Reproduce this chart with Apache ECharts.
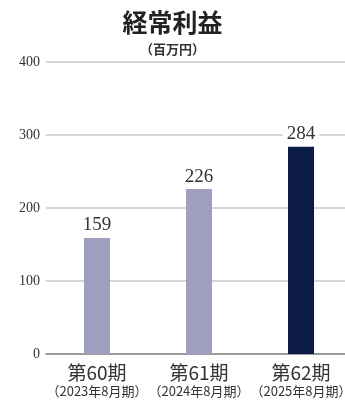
<!DOCTYPE html>
<html><head><meta charset="utf-8">
<script src="https://cdn.jsdelivr.net/npm/echarts@6/dist/echarts.min.js"></script>
<style>html,body{margin:0;padding:0;background:#fff}#c{width:345px;height:401px}</style>
</head><body><div id="c"></div>
<script>
const periods = ['第60期', '第61期', '第62期'];
const fiscal = ['（2023年8月期）', '（2024年8月期）', '（2025年8月期）'];
const values = [159, 226, 284];
const yTicks = [0, 100, 200, 300, 400];
const colors = ['#a19fc0', '#a19fc0', '#0c1b45'];

const chart = echarts.init(document.getElementById('c'));
chart.setOption({
  animation: false,
  title: [
    {text: '経常利益', left: 'center', top: 5, textStyle: {fontFamily: 'Noto Sans CJK JP', fontWeight: 'bold', fontSize: 25, color: '#222'}},
    {text: '（百万円）', left: 'center', top: 38, textStyle: {fontFamily: 'Noto Sans CJK JP', fontWeight: 'bold', fontSize: 13, color: '#333'}}
  ],
  grid: {left: 46, width: 306, top: 62, bottom: 47, containLabel: false, outerBoundsMode: 'none'},
  xAxis: {
    type: 'category', data: periods.map((p, i) => p + '\n' + fiscal[i]),
    axisTick: {show: false},
    axisLine: {lineStyle: {color: '#888', width: 1.5}},
    axisLabel: {
      interval: 0, margin: 8,
      formatter: v => { const s = v.split('\n'); return '{a|' + s[0] + '}\n{b|' + s[1] + '}'; },
      rich: {
        a: {fontFamily: 'Noto Sans CJK JP', fontSize: 19, color: '#333', lineHeight: 22},
        b: {fontFamily: 'Noto Sans CJK JP', fontSize: 13, color: '#333', lineHeight: 14}
      }
    }
  },
  yAxis: {
    type: 'value', min: 0, max: 400, interval: 100,
    axisLabel: {fontFamily: 'Liberation Serif', fontSize: 14, color: '#333', margin: 6},
    splitLine: {lineStyle: {color: '#c8c8c8', width: 1.5}},
    axisLine: {show: false}, axisTick: {show: false}
  },
  series: [{
    type: 'bar', barWidth: 26,
    data: values.map((v, i) => ({value: v, itemStyle: {color: colors[i]}})),
    label: {show: true, position: 'top', distance: 3, fontFamily: 'Liberation Serif', fontSize: 19, color: '#333', backgroundColor: '#fff', padding: [0, 4]}
  }]
});
</script></body></html>
